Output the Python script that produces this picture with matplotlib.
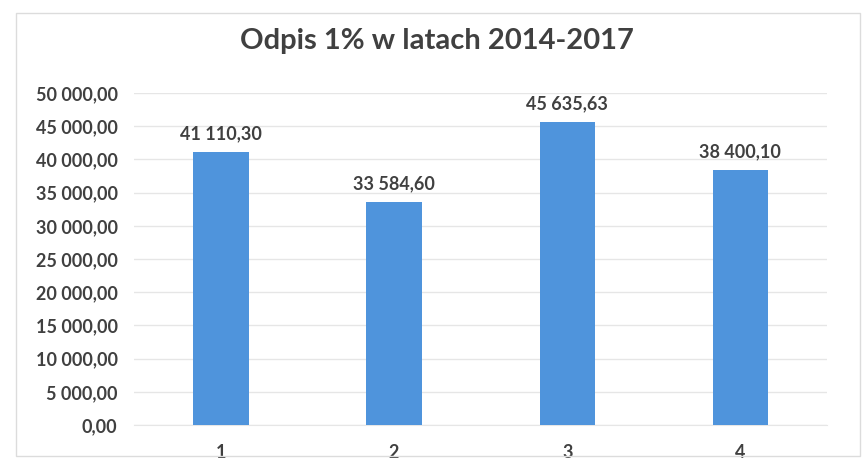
import matplotlib
matplotlib.use('Agg')
import matplotlib.pyplot as plt
from matplotlib.patches import Rectangle

# Chart data
categories = ['1', '2', '3', '4']
values = [41110.30, 33584.60, 45635.63, 38400.10]
yticks = [0, 5000, 10000, 15000, 20000, 25000, 30000, 35000, 40000, 45000, 50000]


def pl_format(v):
    # Polish style: space as thousands separator, comma as decimal
    s = f"{v:,.2f}"
    return s.replace(',', ' ').replace('.', ',')


plt.rcParams['font.family'] = ['Lato', 'DejaVu Sans']

fig = plt.figure(figsize=(8.66, 4.65), dpi=100)
ax = fig.add_axes([0.155, 0.086, 0.80, 0.714])

# Light border around the whole chart
fig.patches.append(Rectangle((0.018, 0.02), 0.975, 0.952, transform=fig.transFigure,
                             fill=False, edgecolor='#dcdcdc', linewidth=1))

x = range(len(categories))
bars = ax.bar(x, values, width=0.32, color='#4f94dc', zorder=3)

for rect, v in zip(bars, values):
    ax.annotate(pl_format(v), (rect.get_x() + rect.get_width() / 2, v),
                xytext=(0, 7), textcoords='offset points', ha='center', va='bottom',
                fontsize=13, fontweight='bold', color='#404040')

ax.set_xlim(-0.5, len(categories) - 0.5)
ax.set_ylim(0, 50000)
ax.set_yticks(yticks)
ax.set_yticklabels([pl_format(t) for t in yticks])
ax.set_xticks(list(x))
ax.set_xticklabels(categories)

ax.grid(axis='y', color='#e6e6e6', linewidth=1, zorder=0)
for side in ['top', 'right', 'left']:
    ax.spines[side].set_visible(False)
ax.spines['bottom'].set_color('#e6e6e6')
ax.tick_params(axis='y', length=0, labelsize=13, labelcolor='#404040', pad=12)
ax.tick_params(axis='x', length=0, labelsize=13, labelcolor='#404040', pad=14)
for lbl in ax.get_xticklabels() + ax.get_yticklabels():
    lbl.set_fontweight('bold')

fig.suptitle('Odpis 1% w latach 2014-2017', x=0.505, y=0.94, fontsize=21,
             fontweight='bold', color='#404040')

fig.savefig('out.png', dpi=100)
